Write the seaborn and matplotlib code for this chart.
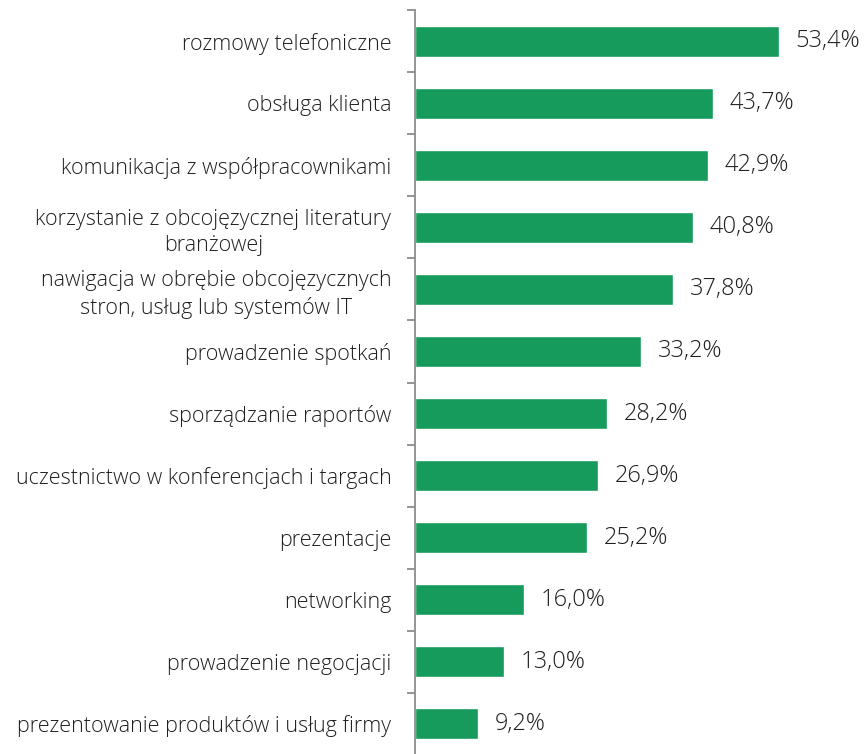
import matplotlib
matplotlib.use("Agg")
import matplotlib.pyplot as plt
import seaborn as sns
import pandas as pd
from matplotlib.ticker import FixedLocator

categories = [
    "rozmowy telefoniczne",
    "obsługa klienta",
    "komunikacja z współpracownikami",
    "korzystanie z obcojęzycznej literatury\nbranżowej",
    "nawigacja w obrębie obcojęzycznych\nstron, usług lub systemów IT",
    "prowadzenie spotkań",
    "sporządzanie raportów",
    "uczestnictwo w konferencjach i targach",
    "prezentacje",
    "networking",
    "prowadzenie negocjacji",
    "prezentowanie produktów i usług firmy",
]
values = [53.4, 43.7, 42.9, 40.8, 37.8, 33.2, 28.2, 26.9, 25.2, 16.0, 13.0, 9.2]

df = pd.DataFrame({"kategoria": categories, "udzial": values})

sns.set_theme(style="white")
plt.rcParams["font.family"] = ["Open Sans", "DejaVu Sans"]

text_color = "#1F1F1F"
bar_color = "#169B5C"
axis_color = "#8C8C8C"

fig = plt.figure(figsize=(8.65, 7.54), dpi=100)
ax = fig.add_axes([415 / 865, -1 / 754, 450 / 865, 745 / 754])

sns.barplot(data=df, y="kategoria", x="udzial", color=bar_color,
            width=0.5, orient="h", ax=ax, saturation=1)

ax.set_xlim(0, 66.0)
ax.set_ylim(len(categories) - 0.5, -0.5)
ax.set_xlabel("")
ax.set_ylabel("")
ax.set_xticks([])

for side in ("top", "right", "bottom"):
    ax.spines[side].set_visible(False)
ax.spines["left"].set_color(axis_color)
ax.spines["left"].set_linewidth(1.3)

# category labels (no tick marks at the centres), short ticks at the boundaries
ax.tick_params(axis="y", which="major", length=0, pad=17,
               labelsize=15.5, labelcolor=text_color)
ax.yaxis.set_minor_locator(FixedLocator([i - 0.5 for i in range(len(categories) + 1)]))
ax.tick_params(axis="y", which="minor", left=True, length=6,
               width=1.3, color=axis_color)
for lbl in ax.get_yticklabels():
    lbl.set_multialignment("center")
    lbl.set_fontweight("light")
    lbl.set_linespacing(1.35)

labels = [f"{v:.1f}".replace(".", ",") + "%" for v in values]
ax.bar_label(ax.containers[0], labels=labels, padding=12,
             fontsize=17, color=text_color, fontweight="light")

fig.savefig("out.png", dpi=100)
